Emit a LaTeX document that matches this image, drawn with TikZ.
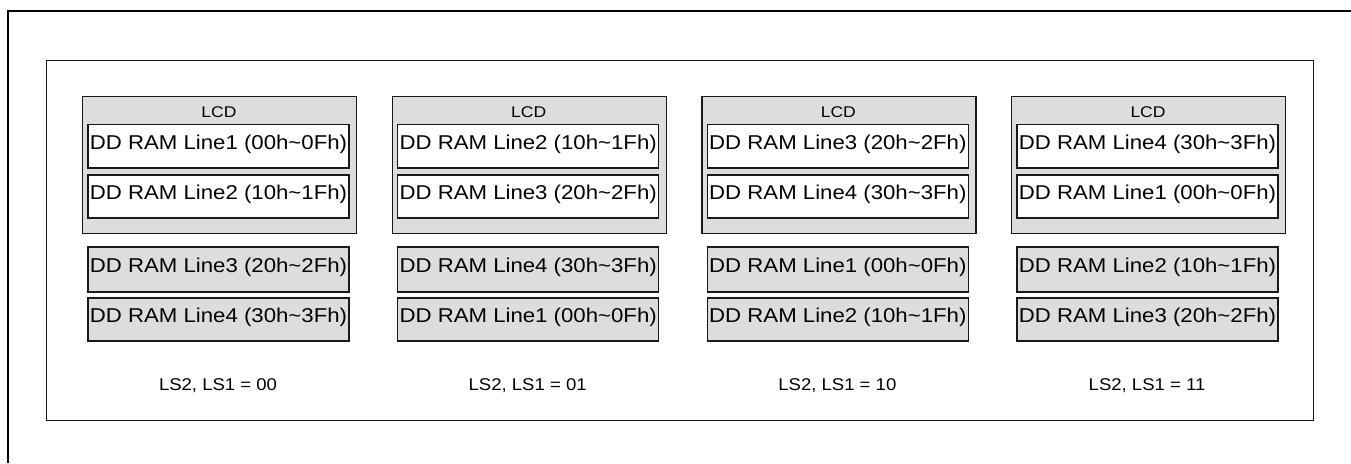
\documentclass[tikz,border=0pt]{standalone}
\usepackage{fontspec}
\setmainfont{Liberation Sans}
\usepackage{graphicx}
\definecolor{boxgray}{RGB}{221,221,221}
\definecolor{edge}{RGB}{25,25,25}
\newcommand{\stretchtxt}[2][1.11]{\scalebox{#1}[1]{#2}}
\tikzset{
  frameline/.style={draw=black, line width=1.6pt},
  panelbox/.style={draw=edge, line width=1.1pt, fill=none, inner sep=0pt, anchor=north west,
    minimum width=1267pt, minimum height=360pt},
  lcdbox/.style={draw=edge, line width=1.3pt, fill=boxgray, inner sep=0pt, anchor=north west,
    minimum width=274pt, minimum height=137pt},
  lcdlabel/.style={anchor=base, inner sep=0pt, font=\fontsize{15.5pt}{17pt}\selectfont},
  ramwhite/.style={draw=edge, line width=1.3pt, fill=white, inner sep=0pt,
    minimum width=261pt, font=\fontsize{20pt}{22pt}\selectfont, text height=14pt, text depth=8pt},
  ramgray/.style={ramwhite, fill=boxgray},
  modelabel/.style={anchor=base, inner sep=0pt, font=\fontsize{17pt}{19pt}\selectfont}
}
\begin{document}
\begin{tikzpicture}[x=1pt,y=-1pt]
\useasboundingbox (0,0) rectangle (1351,463);
\coordinate (fbl) at (8,463);
\coordinate (ftl) at (8,11);
\coordinate (ftr) at (1351,11);
\draw[frameline] (fbl) -- (ftl) -- (ftr);
\node[panelbox] (panel) at (46,60) {};
\foreach \i/\bits in {0/00,1/01,2/10,3/11}{
  \pgfmathsetmacro{\ox}{82+309.67*\i}
  \pgfmathsetmacro{\cx}{\ox+137}
  \pgfmathtruncatemacro{\ka}{mod(\i,4)}
  \pgfmathtruncatemacro{\kb}{mod(\i+1,4)}
  \pgfmathtruncatemacro{\kc}{mod(\i+2,4)}
  \pgfmathtruncatemacro{\kd}{mod(\i+3,4)}
  \pgfmathtruncatemacro{\na}{\ka+1}
  \pgfmathtruncatemacro{\nb}{\kb+1}
  \pgfmathtruncatemacro{\nc}{\kc+1}
  \pgfmathtruncatemacro{\nd}{\kd+1}
  \node[lcdbox] (lcd\i) at (\ox,96) {};
  \node[lcdlabel] (lcdt\i) at (\cx,117) {\stretchtxt[1.13]{LCD}};
  \node[ramwhite, minimum height=43.5pt] (ra\i) at (\cx-0.5,146.25)
    {\stretchtxt{DD RAM Line\na{} (\ka 0h\textasciitilde\ka Fh)}};
  \node[ramwhite, minimum height=43pt] (rb\i) at (\cx-0.5,196.5)
    {\stretchtxt{DD RAM Line\nb{} (\kb 0h\textasciitilde\kb Fh)}};
  \node[ramgray, minimum height=45pt] (rc\i) at (\cx-0.5,269.5)
    {\stretchtxt{DD RAM Line\nc{} (\kc 0h\textasciitilde\kc Fh)}};
  \node[ramgray, minimum height=43pt] (rd\i) at (\cx-0.5,319.5)
    {\stretchtxt{DD RAM Line\nd{} (\kd 0h\textasciitilde\kd Fh)}};
  \node[modelabel] (ls\i) at (\cx-1,390.7) {\stretchtxt[1.09]{LS2, LS1 = \bits}};
}
\end{tikzpicture}
\end{document}
